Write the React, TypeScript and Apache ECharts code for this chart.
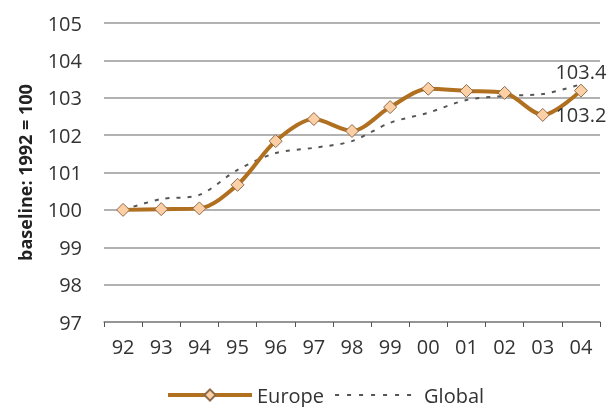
import React, { useEffect, useRef } from "react";
import * as echarts from "echarts";

const categories = ["92", "93", "94", "95", "96", "97", "98", "99", "00", "01", "02", "03", "04"];
const europe = [100.0, 100.02, 100.04, 100.67, 101.84, 102.43, 102.11, 102.75, 103.24, 103.18, 103.13, 102.54, 103.19];
const globalSeries = [100.0, 100.29, 100.4, 101.07, 101.52, 101.66, 101.84, 102.33, 102.6, 102.94, 103.05, 103.1, 103.36];
const yTicks = { min: 97, max: 105, interval: 1 };

const FONT = "'Open Sans', 'Noto Sans', sans-serif";
const TXT = "#333";

export default function App() {
  const ref = useRef<HTMLDivElement>(null);
  useEffect(() => {
    if (!ref.current) return;
    const chart = echarts.init(ref.current, undefined, { renderer: "svg" });
    const last = categories.length - 1;
    const fmt = (p: any) => Number(p.value).toFixed(1);
    chart.setOption({
      animation: false,
      textStyle: { fontFamily: FONT },
      grid: { left: 104, right: 11, top: 23, bottom: 85 },
      legend: {
        left: 166,
        top: 385,
        padding: 0,
        itemWidth: 84,
        itemHeight: 14,
        itemGap: 10,
        textStyle: { fontSize: 20, lineHeight: 20, color: TXT, fontFamily: FONT },
        data: [
          { name: "Europe", lineStyle: { width: 4 } },
          { name: "Global", itemStyle: { opacity: 0 }, lineStyle: { width: 2, type: [4, 8] } },
        ],
      },
      xAxis: {
        type: "category",
        data: categories,
        boundaryGap: true,
        axisLine: { show: true, lineStyle: { color: "#8c8c8c", width: 1.5 } },
        axisTick: { show: true, length: 5, lineStyle: { color: "#555", width: 1 } },
        axisLabel: { fontSize: 20, color: TXT, margin: 14, fontFamily: FONT },
      },
      yAxis: {
        type: "value",
        min: yTicks.min,
        max: yTicks.max,
        interval: yTicks.interval,
        name: "baseline: 1992 = 100",
        nameLocation: "middle",
        nameGap: 70,
        nameRotate: 90,
        nameTextStyle: { fontSize: 18, fontWeight: "bold", color: "#222", fontFamily: FONT },
        axisLine: { show: false },
        axisTick: { show: false },
        axisLabel: { fontSize: 20, color: TXT, margin: 22, fontFamily: FONT },
        splitLine: { show: true, lineStyle: { color: "#999", width: 1.5 } },
      },
      series: [
        {
          name: "Global",
          type: "line",
          data: globalSeries.map((v, i) =>
            i === last
              ? { value: v, label: { show: true, position: "top", distance: 3, formatter: fmt, fontSize: 20, color: TXT, fontFamily: FONT } }
              : v
          ),
          smooth: 0.3,
          symbol: "circle",
          symbolSize: 0,
          lineStyle: { color: "#555", width: 2, type: [4, 7] },
          itemStyle: { color: "#555" },
          z: 2,
        },
        {
          name: "Europe",
          type: "line",
          data: europe.map((v, i) =>
            i === last
              ? { value: v, label: { show: true, position: "bottom", distance: 7, formatter: fmt, fontSize: 20, color: TXT, fontFamily: FONT } }
              : v
          ),
          smooth: 0.3,
          symbol: "diamond",
          symbolSize: 13,
          lineStyle: { color: "#B07020", width: 4 },
          itemStyle: { color: "#FDCFA5", borderColor: "#8C6A4A", borderWidth: 1 },
          z: 3,
        },
      ],
    });
    return () => chart.dispose();
  }, []);
  return (
    <div style={{ position: "fixed", left: 0, top: 0, width: 611, height: 407 }}>
      <div ref={ref} style={{ width: 611, height: 407 }} />
    </div>
  );
}
